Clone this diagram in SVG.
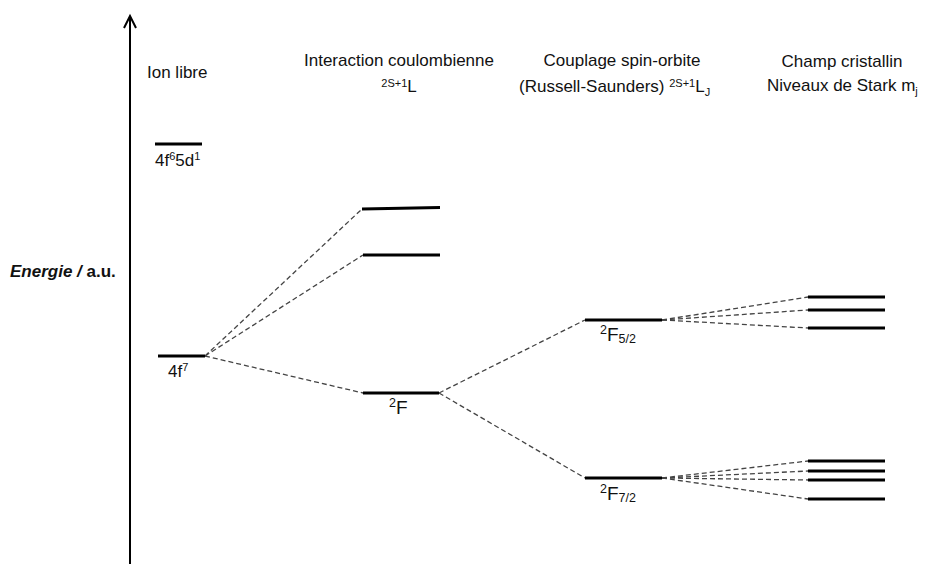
<svg xmlns="http://www.w3.org/2000/svg" width="928" height="564" viewBox="0 0 928 564">
<style>
text{font-family:"Liberation Sans",Arial,sans-serif;fill:#111;font-size:17px}
.s{font-size:11px}
.s2{font-size:12.5px}
.lv{stroke:#000;stroke-width:3;fill:none}
.d{stroke:#444;stroke-width:1.3;stroke-dasharray:5 3;fill:none}
.ax{stroke:#000;stroke-width:2;fill:none}
</style>
<rect width="928" height="564" fill="#fff"/>
<g id="axis">
<line class="ax" x1="130" y1="16" x2="130" y2="564"/>
<polyline class="ax" points="124,28 130,16 136,28"/>
<text x="10" y="277" font-weight="bold" font-size="15"><tspan font-style="italic">Energie /</tspan> a.u.</text>
</g>
<g id="titles">
<text x="147" y="78">Ion libre</text>
<text x="399" y="66" text-anchor="middle">Interaction coulombienne</text>
<text x="399" y="92" text-anchor="middle"><tspan class="s" dy="-5">2S+1</tspan><tspan dy="5">L</tspan></text>
<text x="622" y="66" text-anchor="middle">Couplage spin-orbite</text>
<text x="519" y="92">(Russell-Saunders) <tspan class="s" dy="-5">2S+1</tspan><tspan dy="5">L</tspan><tspan class="s" dy="4">J</tspan></text>
<text x="842" y="67" text-anchor="middle">Champ cristallin</text>
<text x="767" y="91">Niveaux de Stark m<tspan class="s" dy="4">j</tspan></text>
</g>
<g id="connectors">
<line class="d" x1="205" y1="356" x2="362" y2="209"/>
<line class="d" x1="205" y1="356" x2="363" y2="255"/>
<line class="d" x1="205" y1="356" x2="363" y2="393"/>
<line class="d" x1="439" y1="393" x2="585" y2="320"/>
<line class="d" x1="439" y1="393" x2="585" y2="478"/>
<line class="d" x1="662" y1="320" x2="808" y2="297"/>
<line class="d" x1="662" y1="320" x2="808" y2="310"/>
<line class="d" x1="662" y1="320" x2="808" y2="328"/>
<line class="d" x1="662" y1="478" x2="808" y2="461"/>
<line class="d" x1="662" y1="478" x2="808" y2="471"/>
<line class="d" x1="662" y1="478" x2="808" y2="480"/>
<line class="d" x1="662" y1="478" x2="808" y2="499"/>
</g>
<g id="level-4f65d1">
<line class="lv" x1="155" y1="144" x2="202" y2="144"/>
<text x="155" y="166">4f<tspan class="s" dy="-6">6</tspan><tspan dy="6">5d</tspan><tspan class="s" dy="-6">1</tspan></text>
</g>
<g id="level-4f7">
<line class="lv" x1="158" y1="356" x2="205" y2="356"/>
<text x="168" y="377">4f<tspan class="s" dy="-6">7</tspan></text>
</g>
<g id="level-coul-1"><line class="lv" x1="362" y1="209" x2="440" y2="207.5"/></g>
<g id="level-coul-2"><line class="lv" x1="363" y1="255" x2="440" y2="255"/></g>
<g id="level-2F">
<line class="lv" x1="363" y1="393" x2="439" y2="393"/>
<text x="389" y="414"><tspan class="s2" dy="-7">2</tspan><tspan dy="7" font-size="19">F</tspan></text>
</g>
<g id="level-2F52">
<line class="lv" x1="585" y1="320" x2="662" y2="320"/>
<text x="600" y="341"><tspan class="s2" dy="-7">2</tspan><tspan dy="7" font-size="19">F</tspan><tspan class="s2" dy="2">5/2</tspan></text>
</g>
<g id="level-2F72">
<line class="lv" x1="585" y1="478" x2="662" y2="478"/>
<text x="600" y="500"><tspan class="s2" dy="-7">2</tspan><tspan dy="7" font-size="19">F</tspan><tspan class="s2" dy="2">7/2</tspan></text>
</g>
<g id="stark-upper">
<line class="lv" x1="808" y1="297" x2="885" y2="297"/>
<line class="lv" x1="808" y1="310" x2="885" y2="310"/>
<line class="lv" x1="808" y1="328" x2="885" y2="328"/>
</g>
<g id="stark-lower">
<line class="lv" x1="808" y1="461" x2="885" y2="461"/>
<line class="lv" x1="808" y1="471" x2="885" y2="471"/>
<line class="lv" x1="808" y1="480" x2="885" y2="480"/>
<line class="lv" x1="808" y1="499" x2="885" y2="499"/>
</g>
</svg>
